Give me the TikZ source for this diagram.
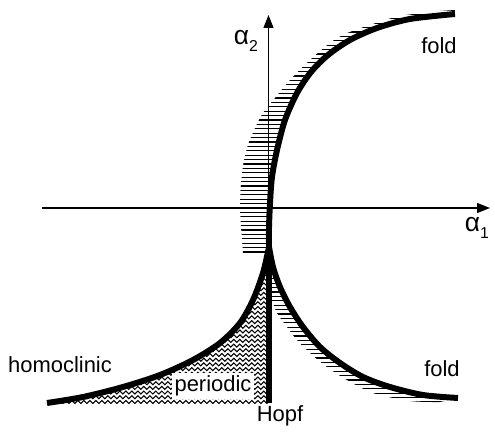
\documentclass[tikz,border=0pt]{standalone}
\usepackage{fontspec}
\setmainfont{Liberation Sans}
\usepackage{tikz}
\usetikzlibrary{arrows.meta,decorations.pathmorphing}

\begin{document}
\begin{tikzpicture}[x=0.02cm,y=0.02cm,
  axis/.style={line width=0.7pt,-{Triangle[length=0.26cm,width=0.2cm]}},
  bif/.style={line width=3.4pt},
  hatch/.style={line width=0.7pt},
  wave/.style={line width=0.6pt,decorate,decoration={snake,segment length=0.12cm,amplitude=0.03cm}},
  lab/.style={font=\fontsize{12.5}{14}\selectfont,inner sep=1pt},
  alab/.style={font=\fontsize{15}{16}\selectfont,inner sep=1pt},
]
\useasboundingbox (0,0) rectangle (495,433);
\coordinate (xl) at (42,225);
\coordinate (xr) at (490,225);
\coordinate (yb) at (268.5,31);
\coordinate (yt) at (268.5,418);
\coordinate (cusp) at (269,186);
\coordinate (hb) at (269,30);

\begin{scope}
\clip plot[smooth] coordinates {(269,180) (269,205) (270,230) (272,256) (277,283) (285,313) (297,340) (311,361) (328,378) (350,393) (377,405) (410,414) (455,419)}
  -- (455,423) -- plot[smooth] coordinates {(440,422) (400,417) (370,408) (345,399) (330,390) (310,373) (290,353) (275,335) (263,320) (255,305) (247,285) (242,260) (240,226) (243,180)} -- cycle;
\foreach \y in {181,185.4,...,424} \draw[hatch] (230,\y) -- (460,\y);
\end{scope}
\begin{scope}
\clip (271.5,186) -- plot[smooth] coordinates {(269,186) (273,166) (280,146) (290,126) (303,106) (320,86) (340,70) (363,56) (390,46) (423,38) (458,35)}
  -- plot[smooth] coordinates {(440,31) (410,32) (373,40) (347,53) (327,66) (310,80) (297,93) (287,106) (277,120) (272,133)} -- (271.5,133) -- cycle;
\foreach \y in {31,35.4,...,184} \draw[hatch] (265,\y) -- (470,\y);
\end{scope}
\begin{scope}
\clip (271,29) -- (271,186) -- plot[smooth] coordinates {(269,186) (263,160) (253,133) (240,110) (220,90) (193,73) (160,58) (123,46) (83,36) (47,30)} -- (45,29) -- cycle;
\foreach \y in {31,35.7,...,184} \draw[wave] (40,\y) -- (275,\y);
\end{scope}

\draw[axis] (xl) -- (xr);
\draw[axis] (yb) -- (yt);
\draw[bif] plot[smooth] coordinates {(269,186) (269,205) (270,230) (272,256) (277,283) (285,313) (297,340) (311,361) (328,378) (350,393) (377,405) (410,414) (455,419)};
\draw[bif] plot[smooth] coordinates {(269,186) (273,166) (280,146) (290,126) (303,106) (320,86) (340,70) (363,56) (390,46) (423,38) (458,35)};
\draw[bif] plot[smooth] coordinates {(269,186) (263,160) (253,133) (240,110) (220,90) (193,73) (160,58) (123,46) (83,36) (47,30)};
\draw[bif] (cusp) -- (hb);

\node[alab] (a2) at (246,392) {α\raisebox{-0.5ex}{\fontsize{9}{10}\selectfont 2}};
\node[alab] (a1) at (477,205) {α\raisebox{-0.5ex}{\fontsize{9}{10}\selectfont 1}};
\node[lab] (foldup) at (439,387) {fold};
\node[lab] (folddown) at (442,64) {fold};
\node[lab] (homoc) at (60,68) {homoclinic};
\node[lab,fill=white,inner sep=1.5pt] (period) at (213,47) {periodic};
\node[lab] (hopf) at (280,17) {Hopf};
\end{tikzpicture}
\end{document}
